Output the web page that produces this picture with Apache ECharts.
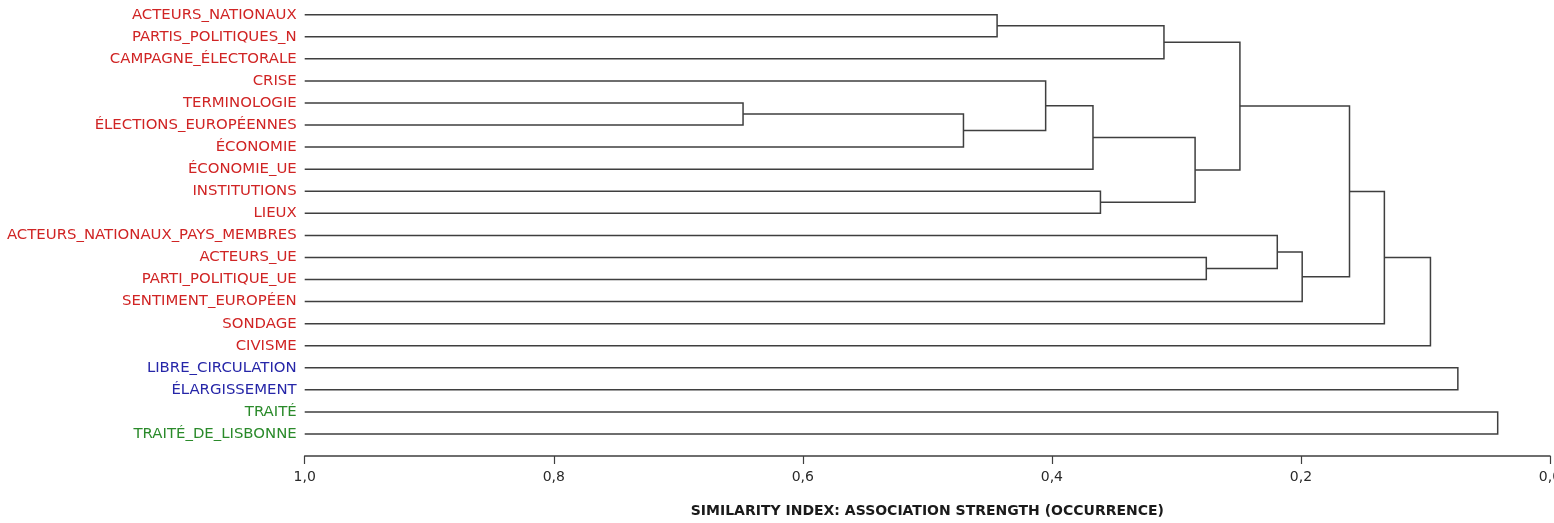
<!DOCTYPE html>
<html>
<head>
<meta charset="utf-8">
<title>Dendrogramme</title>
<script src="https://cdn.jsdelivr.net/npm/echarts@6/dist/echarts.min.js"></script>
<style>
  html, body { margin: 0; padding: 0; background: #fff; }
  #chart { width: 1554px; height: 523px; }
</style>
</head>
<body>
<div id="chart"></div>
<script>
// leaves of the dendrogram, top to bottom
const categories = [
  'ACTEURS_NATIONAUX', 'PARTIS_POLITIQUES_N', 'CAMPAGNE_ÉLECTORALE', 'CRISE',
  'TERMINOLOGIE', 'ÉLECTIONS_EUROPÉENNES', 'ÉCONOMIE', 'ÉCONOMIE_UE',
  'INSTITUTIONS', 'LIEUX', 'ACTEURS_NATIONAUX_PAYS_MEMBRES', 'ACTEURS_UE',
  'PARTI_POLITIQUE_UE', 'SENTIMENT_EUROPÉEN', 'SONDAGE', 'CIVISME',
  'LIBRE_CIRCULATION', 'ÉLARGISSEMENT', 'TRAITÉ', 'TRAITÉ_DE_LISBONNE'
];
// colour group of each leaf
const groups = [0, 0, 0, 0, 0, 0, 0, 0, 0, 0, 0, 0, 0, 0, 0, 0, 1, 1, 2, 2];
const groupColors = ['#d02424', '#2626a8', '#2a8a2a'];

// merges: [child a, child b, similarity]; leaves are 0..19, merged nodes get 20, 21, ...
const merges = [
  [4, 5, 0.648],    // 20
  [20, 6, 0.471],   // 21
  [0, 1, 0.444],    // 22
  [3, 21, 0.405],   // 23
  [23, 7, 0.367],   // 24
  [8, 9, 0.361],    // 25
  [22, 2, 0.310],   // 26
  [24, 25, 0.285],  // 27
  [11, 12, 0.276],  // 28
  [26, 27, 0.249],  // 29
  [10, 28, 0.219],  // 30
  [30, 13, 0.199],  // 31
  [29, 31, 0.161],  // 32
  [32, 14, 0.133],  // 33
  [33, 15, 0.096],  // 34
  [16, 17, 0.074],  // 35
  [18, 19, 0.042]   // 36
];

const axisTitle = 'SIMILARITY INDEX: ASSOCIATION STRENGTH (OCCURRENCE)';

// node positions: leaves sit at similarity 1, merged nodes halfway between their children
const nodeX = categories.map(() => 1);
const nodeY = categories.map((c, i) => i);
merges.forEach(([a, b, s]) => {
  nodeX.push(s);
  nodeY.push((nodeY[a] + nodeY[b]) / 2);
});
const links = merges.map(([a, b, s]) => [s, (nodeY[a] + nodeY[b]) / 2, nodeX[a], nodeY[a], nodeX[b], nodeY[b]]);

const font = 'DejaVu Sans';
const lineColor = '#3f3f3f';

const chart = echarts.init(document.getElementById('chart'));
chart.setOption({
  animation: false,
  backgroundColor: '#fff',
  grid: { left: 304.7, right: 4, top: 3.7, bottom: 78, containLabel: false, outerBoundsMode: 'none' },
  xAxis: {
    type: 'value',
    inverse: true,
    min: 0,
    max: 1,
    interval: 0.2,
    position: 'bottom',
    offset: 11,
    axisLine: { show: true, onZero: false, lineStyle: { color: lineColor, width: 1.5 } },
    axisTick: { show: true, length: 8, lineStyle: { color: lineColor, width: 1.2 } },
    axisLabel: {
      margin: 14,
      fontFamily: font,
      fontSize: 14,
      color: '#2a2a2a',
      formatter: v => v.toFixed(1).replace('.', ',')
    },
    splitLine: { show: false },
    name: axisTitle,
    nameLocation: 'middle',
    nameGap: 48,
    nameTextStyle: { fontFamily: font, fontWeight: 'bold', fontSize: 14, color: '#1a1a1a' }
  },
  yAxis: [
    {
      type: 'category',
      inverse: true,
      data: categories,
      axisLine: { show: false },
      axisTick: { show: false },
      splitLine: { show: false },
      axisLabel: {
        margin: 8,
        fontFamily: font,
        fontSize: 14.9,
        color: (value, index) => groupColors[groups[index]]
      }
    },
    {
      type: 'value',
      show: false,
      inverse: true,
      min: -0.5,
      max: categories.length - 0.5,
      splitLine: { show: false }
    }
  ],
  series: [
    {
      type: 'custom',
      xAxisIndex: 0,
      yAxisIndex: 1,
      clip: false,
      encode: { x: [0, 2, 4], y: [1, 3, 5] },
      data: links,
      renderItem: function (params, api) {
        const s = api.value(0);
        const pts = [
          api.coord([api.value(2), api.value(3)]),
          api.coord([s, api.value(3)]),
          api.coord([s, api.value(5)]),
          api.coord([api.value(4), api.value(5)])
        ];
        return {
          type: 'polyline',
          shape: { points: pts },
          style: { fill: null, stroke: lineColor, lineWidth: 1.5 }
        };
      }
    }
  ]
});
</script>
</body>
</html>
